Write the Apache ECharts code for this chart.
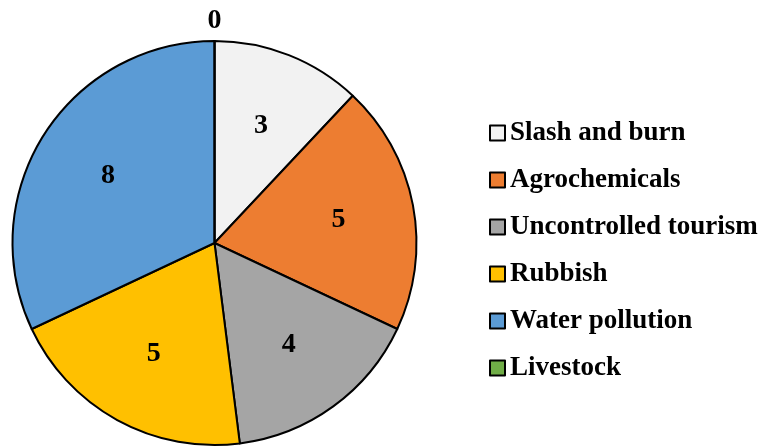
<!DOCTYPE html>
<html>
<head>
<meta charset="utf-8">
<script src="https://cdn.jsdelivr.net/npm/echarts@6/dist/echarts.min.js"></script>
<style>
  html, body { margin: 0; padding: 0; background: #fff; }
  #chart { width: 763px; height: 447px; }
</style>
</head>
<body>
<div id="chart"></div>
<script>
// Threat categories and how many sites report each one
const categories = ['Slash and burn', 'Agrochemicals', 'Uncontrolled tourism', 'Rubbish', 'Water pollution', 'Livestock'];
const counts = [3, 5, 4, 5, 8, 0];
const colors = ['#f2f2f2', '#ed7d31', '#a5a5a5', '#ffc000', '#5b9bd5', '#70ad47'];

const FONT = "'Liberation Serif', 'Times New Roman', serif";
const CENTER = [214.5, 243];
const RADIUS = 202;

const sliceData = categories.map((name, i) => ({
  name: name,
  value: counts[i],
  itemStyle: { color: colors[i] }
}));

// Label-only ring: its mid-radius puts the value labels a bit further out than the pie's half radius
const labelData = categories.map((name, i) => {
  const item = { name: name, value: counts[i] };
  if (counts[i] === 0) {
    item.label = { position: 'outside', distanceToLabelLine: 0 };
    item.labelLine = { show: false, length: 20, length2: 0 };
  }
  return item;
});

const chart = echarts.init(document.getElementById('chart'));
chart.setOption({
  animation: false,
  legend: {
    orient: 'vertical',
    left: 484,
    top: 113,
    padding: 5,
    itemWidth: 15,
    itemHeight: 15,
    itemGap: 17,
    icon: 'rect',
    data: categories,
    textStyle: {
      fontFamily: FONT,
      fontWeight: 'bold',
      fontSize: 27,
      lineHeight: 30,
      color: '#000'
    }
  },
  series: [
    {
      type: 'pie',
      center: CENTER,
      radius: RADIUS,
      startAngle: 90,
      clockwise: true,
      avoidLabelOverlap: false,
      label: { show: false },
      labelLine: { show: false },
      emphasis: { disabled: true },
      itemStyle: { borderColor: '#000', borderWidth: 2 },
      data: sliceData
    },
    {
      type: 'pie',
      center: CENTER,
      radius: [RADIUS * 0.22, RADIUS],
      startAngle: 90,
      clockwise: true,
      silent: true,
      avoidLabelOverlap: false,
      legendHoverLink: false,
      itemStyle: { color: 'rgba(0,0,0,0)', borderWidth: 0 },
      emphasis: { disabled: true },
      label: {
        show: true,
        position: 'inside',
        formatter: '{c}',
        fontFamily: FONT,
        fontWeight: 'bold',
        fontSize: 28,
        color: '#000'
      },
      labelLine: { show: false },
      labelLayout: function (params) {
        return counts[params.dataIndex] === 0 ? { align: 'center' } : {};
      },
      data: labelData
    }
  ]
});
</script>
</body>
</html>
